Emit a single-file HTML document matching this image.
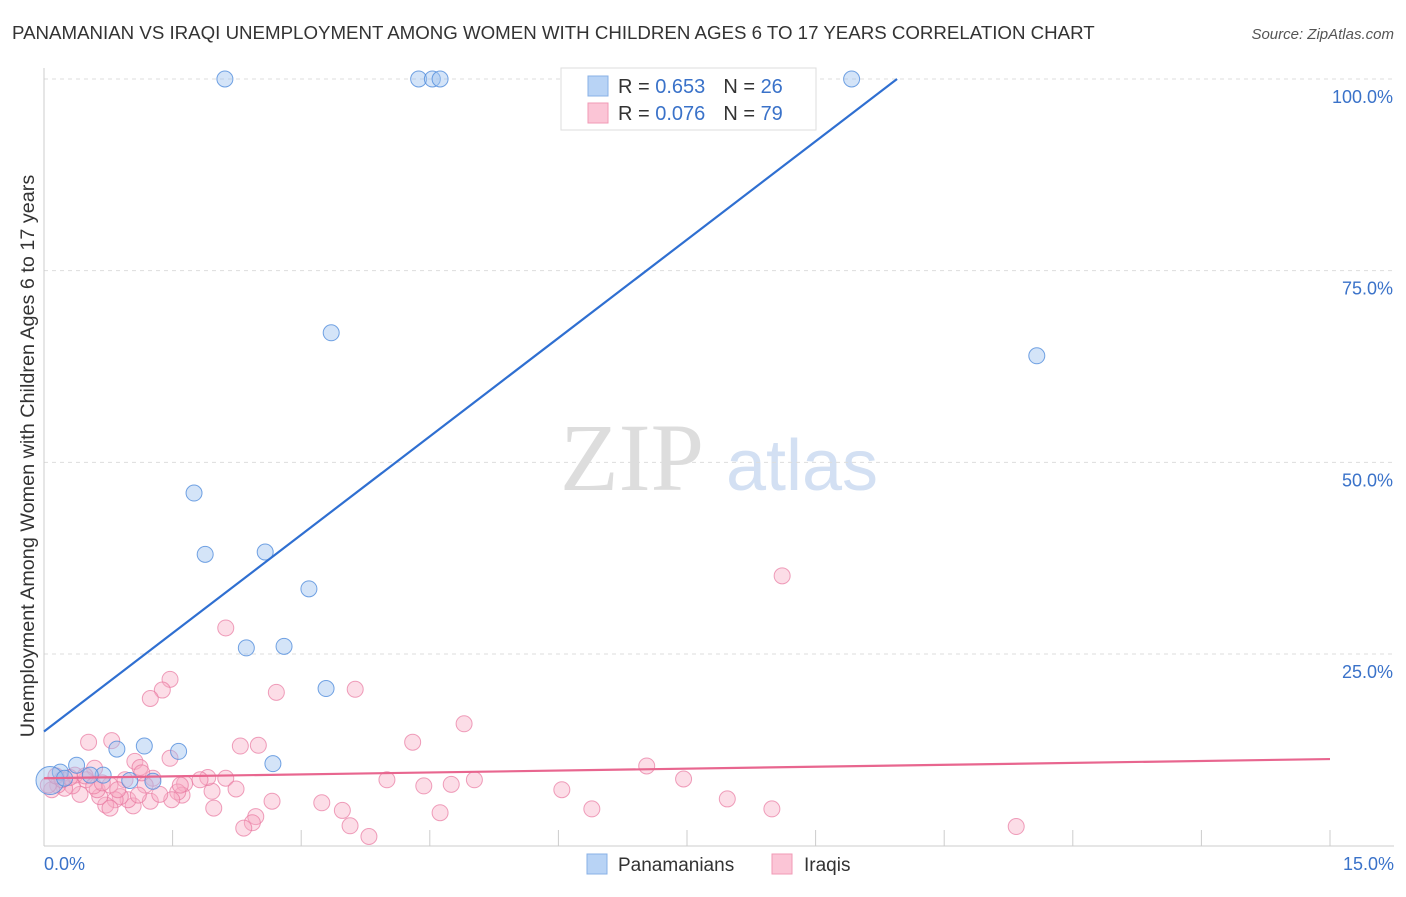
<!DOCTYPE html>
<html><head><meta charset="utf-8"><style>
body{margin:0;background:#fff;font-family:"Liberation Sans",sans-serif;}
</style></head><body>
<svg id="chart" width="1406" height="892" xmlns="http://www.w3.org/2000/svg" font-family="Liberation Sans, sans-serif">
<text x="12" y="39" font-size="18.7" fill="#333">PANAMANIAN VS IRAQI UNEMPLOYMENT AMONG WOMEN WITH CHILDREN AGES 6 TO 17 YEARS CORRELATION CHART</text>
<text x="1394" y="39" font-size="15" fill="#555" text-anchor="end" font-style="italic">Source: ZipAtlas.com</text>
<text transform="translate(34,456) rotate(-90)" font-size="19.8" fill="#333" text-anchor="middle">Unemployment Among Women with Children Ages 6 to 17 years</text>
<g>
<text x="632" y="490" font-size="96" fill="#ddd" font-family="Liberation Serif, serif" text-anchor="middle">ZIP</text>
<text x="802" y="490" font-size="72" fill="#d3e0f3" text-anchor="middle">atlas</text>
</g>
<g id="grid"></g>
<g id="axes"></g>
<g id="pts"></g>
<g id="lines"></g>
<g>
<rect x="561" y="68" width="255" height="62" fill="#fff" stroke="#ddd"/>
<rect x="588" y="76" width="20" height="20" fill="#b8d3f5" stroke="#88b0e6"/>
<rect x="588" y="103" width="20" height="20" fill="#fbc5d6" stroke="#f09ab6"/>
<text x="618" y="93" font-size="20" fill="#333">R = <tspan fill="#3a72c9">0.653</tspan><tspan dx="18">N = </tspan><tspan fill="#3a72c9">26</tspan></text>
<text x="618" y="120" font-size="20" fill="#333">R = <tspan fill="#3a72c9">0.076</tspan><tspan dx="18">N = </tspan><tspan fill="#3a72c9">79</tspan></text>
</g>
<g>
<rect x="587" y="854" width="20" height="20" fill="#b8d3f5" stroke="#88b0e6"/>
<text x="618" y="871" font-size="19" fill="#333">Panamanians</text>
<rect x="772" y="854" width="20" height="20" fill="#fbc5d6" stroke="#f09ab6"/>
<text x="804" y="871" font-size="19" fill="#333">Iraqis</text>
</g>
</svg>
<script>
const xTicks=[0,1.5,3,4.5,6,7.5,9,10.5,12,13.5,15];
const yTicks=[25,50,75,100];
const yTickLabels=["25.0%","50.0%","75.0%","100.0%"];
const xEndLabels=["0.0%","15.0%"];
const blueX=[2.11,4.37,4.53,4.62,9.42,3.35,11.58,1.75,1.88,2.58,3.09,2.36,2.80,3.29,0.85,1.17,1.57,2.67,0.38,0.19,0.69,1.00,1.27,0.54,0.07,0.24];
const blueY=[100,100,100,100,100,66.9,63.9,46.0,38.0,38.3,33.5,25.8,26.0,20.5,12.6,13.0,12.3,10.7,10.5,9.6,9.2,8.5,8.4,9.2,8.5,8.8];
const pinkX=[8.61,2.12,1.47,1.38,1.24,2.71,3.63,4.90,0.52,0.79,2.29,2.50,4.30,7.03,7.46,1.06,1.12,1.47,0.59,4.00,4.43,4.75,5.02,6.04,6.39,7.97,8.49,11.34,3.79,4.62,3.57,3.48,3.24,2.66,2.47,2.43,2.33,1.98,1.96,1.91,2.12,1.64,1.61,1.56,1.49,1.24,1.04,0.98,0.89,0.83,0.72,0.65,0.62,0.77,0.945,1.27,1.18,1.10,0.49,0.42,0.33,0.24,0.16,0.09,0.05,0.21,0.36,0.48,0.30,0.77,0.86,0.14,0.58,1.35,1.82,2.24,1.59,0.68,1.14];
const pinkY=[35.2,28.4,21.7,20.3,19.2,20.0,20.4,15.9,13.5,13.7,13.0,13.1,13.5,10.4,8.7,11.0,10.2,11.4,10.1,8.6,7.8,8.0,8.6,7.3,4.8,6.1,4.8,2.5,1.2,4.3,2.6,4.6,5.6,5.8,3.8,3.0,2.3,4.9,7.1,8.9,8.8,8.1,6.6,7.0,6.0,5.8,5.2,6.0,6.4,6.0,5.3,6.4,7.3,4.9,8.6,8.8,7.9,6.6,8.6,6.7,7.8,7.5,7.9,7.3,7.9,8.6,9.2,9.1,8.9,7.9,7.3,9.1,7.8,6.7,8.6,7.4,7.9,8.2,9.5];
const blueTrend=[[0,14.9],[9.95,100]];
const pinkTrend=[[0,8.8],[15,11.3]];
const NS="http://www.w3.org/2000/svg";
const sx=v=>44+v/15*1286;
const sy=v=>845.7-v*7.667;
function mk(tag,attrs,parent){const e=document.createElementNS(NS,tag);for(const k in attrs)e.setAttribute(k,attrs[k]);parent.appendChild(e);return e;}
const grid=document.getElementById('grid'),axes=document.getElementById('axes'),pts=document.getElementById('pts'),lines=document.getElementById('lines');
yTicks.forEach((t,i)=>{
 const l=mk('line',{x1:44,x2:1394,y1:sy(t),y2:sy(t),stroke:'#ddd','stroke-dasharray':'4,4'},grid);
 
 
 const tx=mk('text',{x:1393,y:sy(t)+24,'font-size':18,fill:'#3a72c9','text-anchor':'end'},axes);
 tx.textContent=yTickLabels[i];
 
 
});
const ya=mk('line',{x1:44,x2:44,y1:68,y2:846,stroke:'#ccc'},axes);


const xa=mk('line',{x1:44,x2:1394,y1:846,y2:846,stroke:'#ccc'},axes);


xTicks.slice(1).forEach(t=>{
 const l=mk('line',{x1:sx(t),x2:sx(t),y1:830,y2:846,stroke:'#ccc'},axes);
 
 
});
const t0=mk('text',{x:44,y:870,'font-size':18,fill:'#3a72c9'},axes);t0.textContent=xEndLabels[0];


const t1=mk('text',{x:1394,y:870,'font-size':18,fill:'#3a72c9','text-anchor':'end'},axes);t1.textContent=xEndLabels[1];


pinkX.forEach((x,i)=>{
 const c=mk('circle',{cx:sx(x),cy:sy(pinkY[i]),r:8,fill:'rgba(248,170,196,0.4)',stroke:'rgba(232,120,160,0.7)','stroke-width':1},pts);
 
 
});
blueX.forEach((x,i)=>{
 const big=(i===24);
 const c=mk('circle',{cx:sx(x),cy:sy(blueY[i]),r:big?14:8,fill:'rgba(160,196,240,0.45)',stroke:'rgba(80,140,220,0.8)','stroke-width':1},pts);
 
 
});
const bl=mk('line',{x1:sx(blueTrend[0][0]),y1:sy(blueTrend[0][1]),x2:sx(blueTrend[1][0]),y2:sy(blueTrend[1][1]),stroke:'#2f6fd1','stroke-width':2.2},lines);


const pl=mk('line',{x1:sx(pinkTrend[0][0]),y1:sy(pinkTrend[0][1]),x2:sx(pinkTrend[1][0]),y2:sy(pinkTrend[1][1]),stroke:'#e8668f','stroke-width':2.2},lines);


</script>
</body></html>
